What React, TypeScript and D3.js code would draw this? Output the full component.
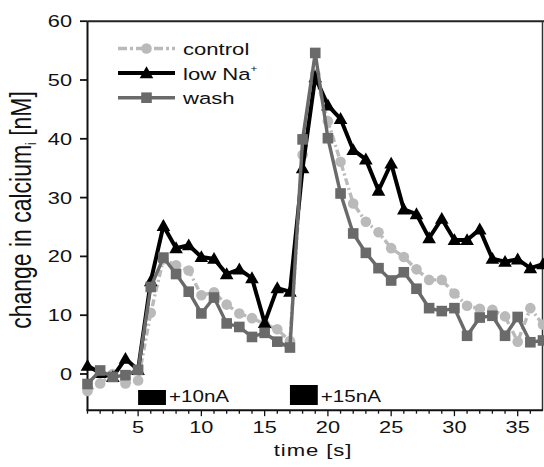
import React from "react";
import * as d3 from "d3";

const times = d3.range(1, 38);
const control = [-2.9, -1.6, 0.0, -1.6, -1.1, 10.4, 19.5, 18.5, 17.6, 13.4, 13.9, 11.8, 10.3, 9.5, 8.5, 7.6, 5.6, 37.3, 51.0, 43.0, 36.1, 29.0, 25.9, 24.1, 21.4, 19.9, 17.8, 16.0, 16.0, 13.7, 11.6, 11.1, 10.9, 9.8, 5.5, 11.2, 8.4];
const lowNa = [1.4, 0.2, -0.5, 2.6, 0.7, 15.8, 25.2, 21.4, 21.9, 19.9, 19.6, 17.0, 17.8, 16.3, 8.7, 14.6, 14.0, 35.0, 50.5, 45.7, 43.4, 38.1, 36.5, 31.2, 35.8, 28.0, 27.2, 23.1, 26.4, 22.8, 22.8, 24.6, 19.6, 19.1, 19.5, 18.0, 18.7];
const wash = [-1.7, 0.6, -0.5, -0.2, 0.7, 14.8, 19.8, 17.0, 14.0, 10.3, 13.0, 8.6, 8.0, 6.3, 7.0, 5.5, 4.5, 39.9, 54.6, 40.1, 30.7, 23.9, 20.6, 18.0, 15.9, 17.3, 14.5, 11.2, 10.7, 11.2, 6.5, 9.6, 9.9, 6.5, 9.7, 5.4, 5.7];

const xTicks = [5, 10, 15, 20, 25, 30, 35];
const xMinor = d3.range(1, 37);
const yTicks = [0, 10, 20, 30, 40, 50, 60];
const stimStart = [5, 17];
const stimEnd = [7.2, 19.2];
const stimLabels = ["+10nA", "+15nA"];
const stimHeight = [15, 20];

const FONT = "'Liberation Sans', Arial, sans-serif";
const W = 544, H = 467;

const x = d3.scaleLinear().domain([1, 37]).range([87.5, 543]);
const y = d3.scaleLinear().domain([0, 60]).range([374, 21.2]);
const yMin = -6.15;

const C_CTRL = "#bababa";
const C_NA = "#000000";
const C_WASH = "#6a6a6a";

function T({ x: tx, y: ty, anchor = "start", size = 17, sx = 1.28, ls = 0, children }: any) {
  return (
    <text
      transform={`translate(${tx},${ty}) scale(${sx},1)`}
      textAnchor={anchor}
      fontFamily={FONT}
      fontSize={size}
      letterSpacing={ls}
      fill="#111"
    >
      {children}
    </text>
  );
}

const tri = (cx: number, cy: number, s = 6.8) =>
  `M${cx},${cy - s} L${cx + s},${cy + s * 0.75} L${cx - s},${cy + s * 0.75} Z`;

export default function App() {
  const line = d3.line<number>().x((_, i) => x(times[i])).y((d) => y(d));
  const y0 = y(yMin);

  const series = [
    { name: "control", data: control, color: C_CTRL, width: 3.4, dash: "7,3,2,3", marker: "circle" },
    { name: "lowNa", data: lowNa, color: C_NA, width: 4, dash: undefined, marker: "tri" },
    { name: "wash", data: wash, color: C_WASH, width: 3.4, dash: undefined, marker: "square" },
  ];

  const marker = (m: string, cx: number, cy: number, color: string, key: any) => {
    if (m === "circle") return <circle key={key} cx={cx} cy={cy} r={5.3} fill={color} />;
    if (m === "square") return <rect key={key} x={cx - 5.3} y={cy - 5.3} width={10.6} height={10.6} fill={color} />;
    return <path key={key} d={tri(cx, cy)} fill={color} />;
  };

  const legendRows = [
    { label: "control", color: C_CTRL, dash: "9,3,3,3", marker: "circle", width: 3.4 },
    { label: "low Na", color: C_NA, dash: undefined, marker: "tri", width: 4 },
    { label: "wash", color: C_WASH, dash: undefined, marker: "square", width: 3.4 },
  ];

  return (
    <svg width={W} height={H} style={{ position: "absolute", left: 0, top: 0, background: "#fff" }}>
      <rect width={W} height={H} fill="#fff" />
      {/* frame */}
      <line x1={87.5} x2={87.5} y1={y(60)} y2={y0} stroke="#111" strokeWidth={2} />
      <line x1={87.5} x2={W} y1={y(60)} y2={y(60)} stroke="#222" strokeWidth={2} />
      <line x1={542.5} x2={542.5} y1={y(60)} y2={y0} stroke="#333" strokeWidth={1.5} />
      <line x1={86.5} x2={543} y1={y0} y2={y0} stroke="#111" strokeWidth={2} />

      {/* y ticks */}
      {yTicks.map((t) => (
        <g key={"y" + t}>
          <line x1={80} x2={87.5} y1={y(t)} y2={y(t)} stroke="#111" strokeWidth={1.8} />
          <T x={72} y={y(t) + 6} anchor="end">{t}</T>
        </g>
      ))}

      {/* x ticks */}
      {xMinor.map((t) => (
        <line key={"xm" + t} x1={x(t)} x2={x(t)} y1={y0} y2={y0 + (t % 5 === 0 ? 6 : 3.5)} stroke="#111" strokeWidth={1.3} />
      ))}
      {xTicks.map((t) => (
        <T key={"xl" + t} x={x(t)} y={433} anchor="middle">{t}</T>
      ))}

      {/* stimulus bars */}
      {stimStart.map((s, i) => (
        <g key={"st" + i}>
          <rect x={x(s)} y={405 - stimHeight[i]} width={x(stimEnd[i]) - x(s)} height={stimHeight[i]} fill="#000" />
          <T x={x(stimEnd[i]) + 3} y={402} size={16.5} sx={1.25}>{stimLabels[i]}</T>
        </g>
      ))}

      {/* series */}
      {series.map((s) => (
        <g key={s.name}>
          <path d={line(s.data) || ""} fill="none" stroke={s.color} strokeWidth={s.width} strokeDasharray={s.dash} strokeLinejoin="miter" />
          {s.data.map((v, i) => marker(s.marker, x(times[i]), y(v), s.color, i))}
        </g>
      ))}

      {/* legend */}
      {legendRows.map((r, i) => {
        const ly = 48.5 + i * 24.6;
        return (
          <g key={r.label}>
            <line x1={118} x2={175} y1={ly} y2={ly} stroke={r.color} strokeWidth={r.width} strokeDasharray={r.dash} />
            {marker(r.marker, 146.5, ly, r.color, "m")}
            <T x={183} y={ly + 6.5} sx={1.3}>
              {r.label}
              {i === 1 ? <tspan fontSize={9} dy={-8}>+</tspan> : null}
            </T>
          </g>
        );
      })}

      {/* axis titles */}
      <T x={313} y={455.5} anchor="middle" sx={1.3} ls={0.7}>time [s]</T>
      <text
        transform={`translate(31,210) scale(1.25,1) rotate(-90)`}
        textAnchor="middle"
        fontFamily={FONT}
        fontSize={23}
        fill="#111"
      >
        change in calcium<tspan fontSize={12} dy={4}>i</tspan>
        <tspan dy={-4}> [nM]</tspan>
      </text>
    </svg>
  );
}
